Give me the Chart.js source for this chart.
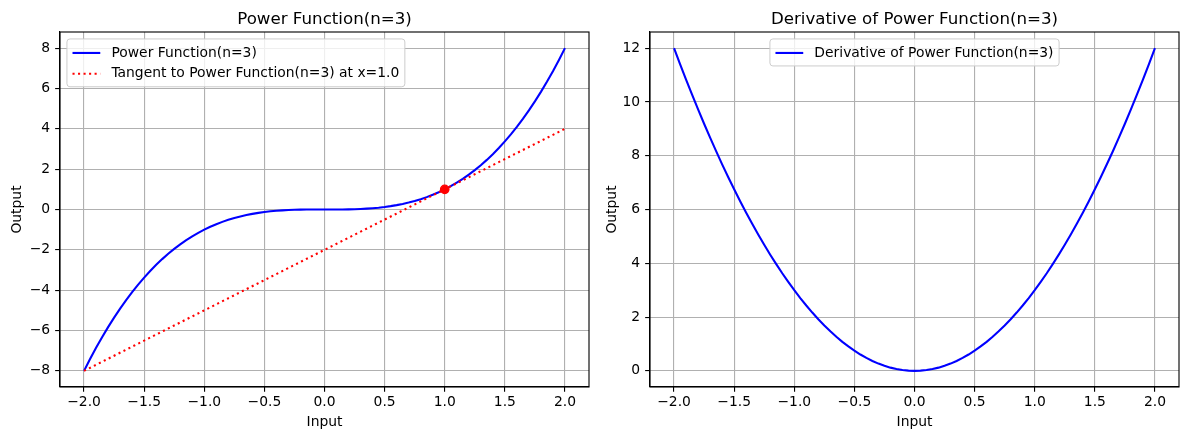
<!DOCTYPE html>
<html>
<head>
<meta charset="utf-8">
<script src="https://cdn.jsdelivr.net/npm/chart.js@4.4.0/dist/chart.umd.min.js"></script>
<style>
  html, body { margin: 0; padding: 0; background: #ffffff; }
  #wrap { position: relative; width: 1189px; height: 440px; overflow: hidden; }
  canvas { position: absolute; top: 0; }
  #c1 { left: 0; }
  #c2 { left: 595px; }
</style>
</head>
<body>
<div id="wrap">
  <canvas id="c1" width="595" height="440"></canvas>
  <canvas id="c2" width="594" height="440"></canvas>
</div>
<script>
// ---- Data ----
const inputX = [-2.00, -1.95, -1.90, -1.85, -1.80, -1.75, -1.70, -1.65, -1.60, -1.55,
                -1.50, -1.45, -1.40, -1.35, -1.30, -1.25, -1.20, -1.15, -1.10, -1.05,
                -1.00, -0.95, -0.90, -0.85, -0.80, -0.75, -0.70, -0.65, -0.60, -0.55,
                -0.50, -0.45, -0.40, -0.35, -0.30, -0.25, -0.20, -0.15, -0.10, -0.05,
                0.00, 0.05, 0.10, 0.15, 0.20, 0.25, 0.30, 0.35, 0.40, 0.45,
                0.50, 0.55, 0.60, 0.65, 0.70, 0.75, 0.80, 0.85, 0.90, 0.95,
                1.00, 1.05, 1.10, 1.15, 1.20, 1.25, 1.30, 1.35, 1.40, 1.45,
                1.50, 1.55, 1.60, 1.65, 1.70, 1.75, 1.80, 1.85, 1.90, 1.95, 2.00];
const powerValues = [-8.000, -7.415, -6.859, -6.332, -5.832, -5.359, -4.913, -4.492, -4.096, -3.724,
                     -3.375, -3.049, -2.744, -2.460, -2.197, -1.953, -1.728, -1.521, -1.331, -1.158,
                     -1.000, -0.857, -0.729, -0.614, -0.512, -0.422, -0.343, -0.275, -0.216, -0.166,
                     -0.125, -0.091, -0.064, -0.043, -0.027, -0.016, -0.008, -0.003, -0.001, 0.000,
                     0.000, 0.000, 0.001, 0.003, 0.008, 0.016, 0.027, 0.043, 0.064, 0.091,
                     0.125, 0.166, 0.216, 0.275, 0.343, 0.422, 0.512, 0.614, 0.729, 0.857,
                     1.000, 1.158, 1.331, 1.521, 1.728, 1.953, 2.197, 2.460, 2.744, 3.049,
                     3.375, 3.724, 4.096, 4.492, 4.913, 5.359, 5.832, 6.332, 6.859, 7.415, 8.000];
const derivativeValues = [12.000, 11.408, 10.830, 10.268, 9.720, 9.188, 8.670, 8.168, 7.680, 7.208,
                          6.750, 6.308, 5.880, 5.468, 5.070, 4.688, 4.320, 3.968, 3.630, 3.308,
                          3.000, 2.708, 2.430, 2.168, 1.920, 1.688, 1.470, 1.268, 1.080, 0.908,
                          0.750, 0.608, 0.480, 0.368, 0.270, 0.188, 0.120, 0.068, 0.030, 0.008,
                          0.000, 0.008, 0.030, 0.068, 0.120, 0.188, 0.270, 0.368, 0.480, 0.608,
                          0.750, 0.908, 1.080, 1.268, 1.470, 1.688, 1.920, 2.168, 2.430, 2.708,
                          3.000, 3.308, 3.630, 3.968, 4.320, 4.688, 5.070, 5.468, 5.880, 6.308,
                          6.750, 7.208, 7.680, 8.168, 8.670, 9.188, 9.720, 10.268, 10.830, 11.408, 12.000];
const tangentX = [-2.0, 2.0];
const tangentY = [-8.0, 4.0];
const tangentPointX = [1.0];
const tangentPointY = [1.0];
const xTicks = [-2.0, -1.5, -1.0, -0.5, 0.0, 0.5, 1.0, 1.5, 2.0];
const yTicksLeft = [-8, -6, -4, -2, 0, 2, 4, 6, 8];
const yTicksRight = [0, 2, 4, 6, 8, 10, 12];
const titles = ['Power Function(n=3)', 'Derivative of Power Function(n=3)'];
const seriesLabels = ['Power Function(n=3)', 'Tangent to Power Function(n=3) at x=1.0', 'Derivative of Power Function(n=3)'];
const xLabel = 'Input';
const yLabel = 'Output';

// ---- Helpers ----
const FONT = "'DejaVu Sans', sans-serif";
const PT = 100 / 72;
const zip = (xs, ys) => xs.map((x, i) => ({ x: x, y: ys[i] }));
const fmtX = v => (Math.abs(v) < 1e-9 ? '0.0' : v.toFixed(1)).replace('-', '\u2212');
const fmtY = v => String(Math.round(v)).replace('-', '\u2212');

function decorPlugin(cfg) {
  return {
    id: 'decor',
    afterDraw(chart) {
      const ctx = chart.ctx;
      const a = chart.chartArea;
      ctx.save();
      // spines
      ctx.strokeStyle = '#000000';
      ctx.lineWidth = 0.8 * PT;
      ctx.strokeRect(a.left, a.top, a.right - a.left, a.bottom - a.top);
      // title
      ctx.fillStyle = '#000000';
      ctx.font = (12 * PT) + 'px ' + FONT;
      ctx.textAlign = 'center';
      ctx.textBaseline = 'alphabetic';
      ctx.fillText(cfg.title, (a.left + a.right) / 2, a.top - 8.3);
      // x label
      ctx.font = (10 * PT) + 'px ' + FONT;
      ctx.fillText(xLabel, (a.left + a.right) / 2, 425.5);
      // y label
      ctx.save();
      ctx.translate(cfg.yLabelX, (a.top + a.bottom) / 2);
      ctx.rotate(-Math.PI / 2);
      ctx.fillText(yLabel, 0, 0);
      ctx.restore();
      // legend
      const fs = 10 * PT;
      ctx.font = fs + 'px ' + FONT;
      const pad = 0.4 * fs, hl = 2.0 * fs, htp = 0.8 * fs, ls = 0.5 * fs, bap = 0.5 * fs;
      const rowH = fs;
      let tw = 0;
      cfg.legend.forEach(it => { tw = Math.max(tw, ctx.measureText(it.label).width); });
      const bw = pad * 2 + hl + htp + tw;
      const bh = pad * 2 + rowH * cfg.legend.length + ls * (cfg.legend.length - 1) + 2;
      let bx;
      if (cfg.legendPos === 'upper left') bx = a.left + bap;
      else bx = (a.left + a.right) / 2 - bw / 2;
      const by = a.top + bap;
      const r = 3;
      ctx.beginPath();
      ctx.moveTo(bx + r, by);
      ctx.lineTo(bx + bw - r, by);
      ctx.quadraticCurveTo(bx + bw, by, bx + bw, by + r);
      ctx.lineTo(bx + bw, by + bh - r);
      ctx.quadraticCurveTo(bx + bw, by + bh, bx + bw - r, by + bh);
      ctx.lineTo(bx + r, by + bh);
      ctx.quadraticCurveTo(bx, by + bh, bx, by + bh - r);
      ctx.lineTo(bx, by + r);
      ctx.quadraticCurveTo(bx, by, bx + r, by);
      ctx.closePath();
      ctx.fillStyle = 'rgba(255,255,255,0.8)';
      ctx.fill();
      ctx.strokeStyle = '#cccccc';
      ctx.lineWidth = 1.0;
      ctx.stroke();
      cfg.legend.forEach((it, i) => {
        const cy = by + pad + 1 + rowH / 2 + i * (rowH + ls) + 0.5;
        ctx.save();
        ctx.strokeStyle = it.color;
        ctx.lineWidth = 1.5 * PT;
        ctx.lineCap = 'butt';
        ctx.setLineDash(it.dash || []);
        ctx.beginPath();
        ctx.moveTo(bx + pad, cy);
        ctx.lineTo(bx + pad + hl, cy);
        ctx.stroke();
        ctx.restore();
        ctx.fillStyle = '#000000';
        ctx.textAlign = 'left';
        ctx.textBaseline = 'middle';
        ctx.fillText(it.label, bx + pad + hl + htp, cy);
      });
      ctx.restore();
    }
  };
}

function makeScales(yMin, yMax, yTicks, yWidth) {
  const grid = {
    color: '#b0b0b0',
    lineWidth: 0.8 * PT,
    drawTicks: true,
    tickLength: 3.5 * PT,
    tickColor: '#000000',
    tickWidth: 0.8 * PT
  };
  return {
    x: {
      type: 'linear',
      min: -2.2,
      max: 2.2,
      grid: grid,
      border: { display: true, color: '#000000', width: 0.8 * PT },
      afterBuildTicks: s => { s.ticks = xTicks.map(v => ({ value: v })); },
      afterFit: s => { s.height = 53; },
      ticks: {
        color: '#000000',
        font: { family: FONT, size: 10 * PT },
        padding: 2,
        maxRotation: 0,
        autoSkip: false,
        callback: v => fmtX(v)
      }
    },
    y: {
      type: 'linear',
      min: yMin,
      max: yMax,
      grid: grid,
      border: { display: true, color: '#000000', width: 0.8 * PT },
      afterBuildTicks: s => { s.ticks = yTicks.map(v => ({ value: v })); },
      afterFit: s => { s.width = yWidth; },
      ticks: {
        color: '#000000',
        font: { family: FONT, size: 10 * PT },
        padding: 5,
        autoSkip: false,
        callback: v => fmtY(v)
      }
    }
  };
}

const lineW = 1.5 * PT;

new Chart(document.getElementById('c1'), {
  type: 'line',
  data: {
    datasets: [
      { label: 'point', type: 'scatter', data: zip(tangentPointX, tangentPointY),
        pointRadius: 3 * PT, pointBackgroundColor: '#ff0000', pointBorderColor: '#ff0000',
        pointBorderWidth: 1.0 * PT, showLine: false, order: 0 },
      { label: seriesLabels[1], data: zip(tangentX, tangentY), borderColor: '#ff0000',
        borderWidth: lineW, borderDash: [1.5 * PT, 2.475 * PT], borderCapStyle: 'butt',
        pointRadius: 0, tension: 0, fill: false, order: 1 },
      { label: seriesLabels[0], data: zip(inputX, powerValues), borderColor: '#0000ff',
        borderWidth: lineW, pointRadius: 0, tension: 0, fill: false, order: 2 }
    ]
  },
  options: {
    responsive: false,
    animation: false,
    devicePixelRatio: 1,
    layout: { padding: { left: 0, top: 32, right: 6, bottom: 0 } },
    plugins: { legend: { display: false }, title: { display: false }, tooltip: { enabled: false } },
    events: [],
    scales: makeScales(-8.8, 8.8, yTicksLeft, 60)
  },
  plugins: [decorPlugin({
    title: titles[0],
    yLabelX: 20.5,
    legendPos: 'upper left',
    legend: [
      { label: seriesLabels[0], color: '#0000ff' },
      { label: seriesLabels[1], color: '#ff0000', dash: [1.5 * PT, 2.475 * PT] }
    ]
  })]
});

new Chart(document.getElementById('c2'), {
  type: 'line',
  data: {
    datasets: [
      { label: seriesLabels[2], data: zip(inputX, derivativeValues), borderColor: '#0000ff',
        borderWidth: lineW, pointRadius: 0, tension: 0, fill: false }
    ]
  },
  options: {
    responsive: false,
    animation: false,
    devicePixelRatio: 1,
    layout: { padding: { left: 0, top: 32, right: 10, bottom: 0 } },
    plugins: { legend: { display: false }, title: { display: false }, tooltip: { enabled: false } },
    events: [],
    scales: makeScales(-0.6, 12.6, yTicksRight, 55)
  },
  plugins: [decorPlugin({
    title: titles[1],
    yLabelX: 20.5,
    legendPos: 'upper center',
    legend: [
      { label: seriesLabels[2], color: '#0000ff' }
    ]
  })]
});
</script>
</body>
</html>
